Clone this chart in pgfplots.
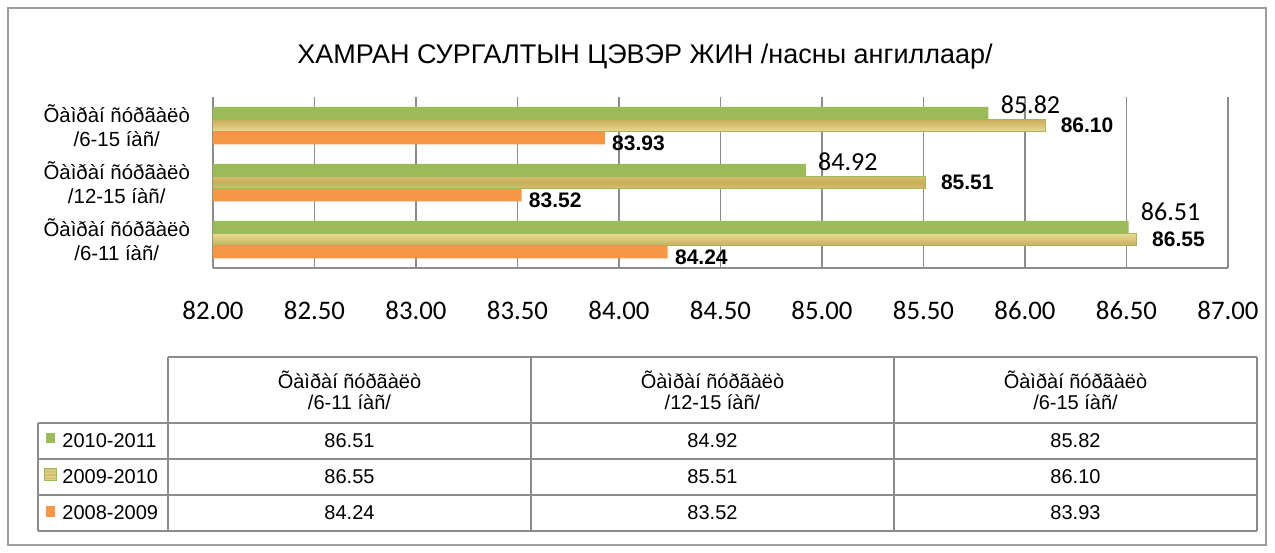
\documentclass[border=0pt]{standalone}
\usepackage{fontspec}
\setmainfont{Liberation Sans}
\newfontfamily\calibri{Carlito}
\usepackage{pgfplots}
\usepackage{pgfplotstable}
\pgfplotsset{compat=1.18}

\definecolor{grn}{HTML}{9BBB59}
\definecolor{org}{HTML}{F79646}
\definecolor{tanA}{HTML}{C8AD5A}
\definecolor{tanB}{HTML}{F2E2A0}
\definecolor{gridc}{HTML}{8C8C8C}
\definecolor{framec}{HTML}{9C9C9C}

% stripes for the 2009-2010 bars (central 25bp..75bp is what shows)
\pgfdeclareverticalshading{stripes}{100bp}{color(0bp)=(tanA); color(25bp)=(tanA);
  color(31bp)=(tanB); color(37bp)=(tanA); color(43bp)=(tanB); color(50bp)=(tanA);
  color(57bp)=(tanB); color(63bp)=(tanA); color(69bp)=(tanB); color(75bp)=(tanA);
  color(100bp)=(tanA)}

% cat: 0 = 6-11, 1 = 12-15, 2 = 6-15; dy = lift of the 2010-2011 label (pt)
\pgfplotstableread{
cat v1011 v0910 v0809 dy
0 86.51 86.55 84.24 7.5
1 84.92 85.51 83.52 4
2 85.82 86.10 83.93 4.25
}\datatable

\newcommand\cell[2]{\pgfplotstablegetelem{#1}{#2}\of\datatable
  \pgfmathprintnumber[fixed,fixed zerofill,precision=2,assume math mode=true]{\pgfplotsretval}}

\begin{document}
\begin{tikzpicture}
\useasboundingbox (0,0) rectangle (637.5pt,-276pt);
\draw[framec, line width=0.75pt] (4pt,-4pt) rectangle (633pt,-272.5pt);

\node[font=\fontsize{13.5}{15}\selectfont] at (322.5pt,-28.5pt)
  {ХАМРАН СУРГАЛТЫН ЦЭВЭР ЖИН /насны ангиллаар/};

\begin{axis}[
  at={(106.5pt,-134pt)}, anchor=south west,
  scale only axis, width=507.5pt, height=85.5pt,
  xbar, bar width=6.25pt,
  xmin=82, xmax=87, ymin=-0.5, ymax=2.5,
  xtick={82,82.5,83,83.5,84,84.5,85,85.5,86,86.5,87},
  ytick={0,1,2},
  yticklabels={{Õàìðàí ñóðãàëò\\/6-11 íàñ/},{Õàìðàí ñóðãàëò\\/12-15 íàñ/},{Õàìðàí ñóðãàëò\\/6-15 íàñ/}},
  axis x line*=bottom, axis y line*=left,
  axis line style={draw=gridc, line width=0.75pt},
  xmajorgrids, major grid style={draw=gridc, line width=0.75pt},
  major tick length=0pt,
  xticklabel style={font=\calibri\fontsize{13.4}{14}\selectfont, yshift=-13pt},
  x tick label style={/pgf/number format/.cd, fixed, fixed zerofill, precision=2, assume math mode=true},
  yticklabel style={font=\fontsize{10.2}{12}\selectfont, align=center, xshift=-8pt},
  point meta=x,
  nodes near coords={\pgfmathprintnumber[fixed,fixed zerofill,precision=2,assume math mode=true]{\pgfplotspointmeta}},
]
% 2010-2011
\addplot[fill=grn, draw=none, bar shift=6.25pt,
  visualization depends on={\thisrow{dy} \as \labdy},
  every node near coord/.append style={font=\calibri\fontsize{13}{13}\selectfont,
    anchor=west, inner sep=0pt, xshift=6pt, yshift=\labdy pt}]
  table[x=v1011, y=cat] {\datatable};
% 2009-2010
\addplot[draw=grn, line width=0.5pt, shade, shading=stripes, bar shift=0pt,
  every node near coord/.append style={font=\bfseries\fontsize{10.5}{11}\selectfont,
    anchor=west, inner sep=0pt, xshift=7.5pt}]
  table[x=v0910, y=cat] {\datatable};
% 2008-2009
\addplot[fill=org, draw=none, bar shift=-6.25pt,
  every node near coord/.append style={font=\bfseries\fontsize{10.5}{11}\selectfont,
    anchor=west, inner sep=0pt, xshift=3.5pt, yshift=-2.75pt}]
  table[x=v0809, y=cat] {\datatable};
\end{axis}

% data table
\begin{scope}[gridc, line width=0.9pt]
\draw (84pt,-178.5pt) -- (628.5pt,-178.5pt);
\draw (19pt,-211.5pt) -- (628.5pt,-211.5pt);
\draw (19pt,-229.5pt) -- (628.5pt,-229.5pt);
\draw (19pt,-247.5pt) -- (628.5pt,-247.5pt);
\draw (19pt,-265.5pt) -- (628.5pt,-265.5pt);
\draw (19pt,-211.5pt) -- (19pt,-265.5pt);
\draw (84pt,-178.5pt) -- (84pt,-265.5pt);
\draw (265.5pt,-178.5pt) -- (265.5pt,-265.5pt);
\draw (447pt,-178.5pt) -- (447pt,-265.5pt);
\draw (628.5pt,-178.5pt) -- (628.5pt,-265.5pt);
\end{scope}

\begin{scope}[every node/.style={font=\fontsize{10}{10.5}\selectfont, align=center}]
\node at (174.75pt,-195pt) {Õàìðàí ñóðãàëò\\/6-11 íàñ/};
\node at (356.25pt,-195pt) {Õàìðàí ñóðãàëò\\/12-15 íàñ/};
\node at (537.75pt,-195pt) {Õàìðàí ñóðãàëò\\/6-15 íàñ/};

\node at (174.75pt,-220.5pt) {\cell{0}{v1011}};
\node at (356.25pt,-220.5pt) {\cell{1}{v1011}};
\node at (537.75pt,-220.5pt) {\cell{2}{v1011}};
\node at (174.75pt,-238.5pt) {\cell{0}{v0910}};
\node at (356.25pt,-238.5pt) {\cell{1}{v0910}};
\node at (537.75pt,-238.5pt) {\cell{2}{v0910}};
\node at (174.75pt,-256.5pt) {\cell{0}{v0809}};
\node at (356.25pt,-256.5pt) {\cell{1}{v0809}};
\node at (537.75pt,-256.5pt) {\cell{2}{v0809}};

\node[anchor=west, inner sep=0pt] at (31pt,-220.5pt) {2010-2011};
\node[anchor=west, inner sep=0pt] at (31pt,-238.5pt) {2009-2010};
\node[anchor=west, inner sep=0pt] at (31pt,-256.5pt) {2008-2009};
\end{scope}

% legend keys
\fill[grn] (23pt,-216.5pt) rectangle (27.5pt,-221.5pt);
\path[draw=grn, line width=0.6pt, shade, shading=stripes] (22.25pt,-234.25pt) rectangle (28.25pt,-240.25pt);
\fill[org] (23pt,-253pt) rectangle (27.5pt,-258.5pt);
\end{tikzpicture}
\end{document}
